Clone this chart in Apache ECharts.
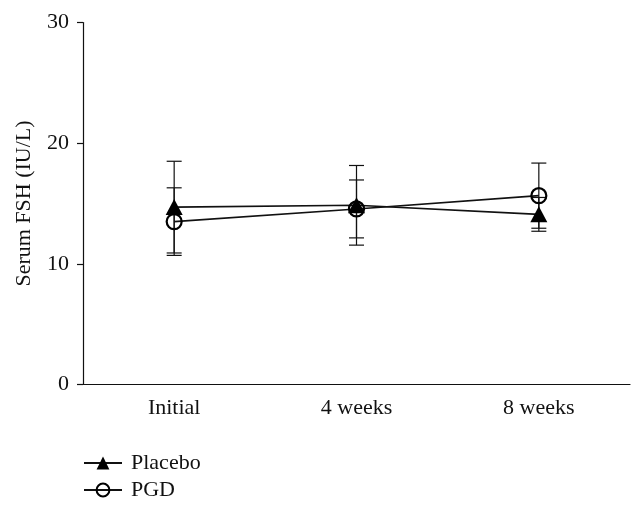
<!DOCTYPE html>
<html>
<head>
<meta charset="utf-8">
<script src="https://cdn.jsdelivr.net/npm/echarts@6/dist/echarts.min.js"></script>
<style>
html,body{margin:0;padding:0;background:#fff;}
#chart{width:643px;height:511px;}
</style>
</head>
<body>
<div id="chart"></div>
<script>
var categories = ['Initial', '4 weeks', '8 weeks'];
var placeboMean = [14.7, 14.85, 14.1];
var placeboSD = [3.8, 3.3, 1.4];
var pgdMean = [13.5, 14.55, 15.65];
var pgdSD = [2.8, 2.4, 2.7];
var yTicks = [0, 10, 20, 30];

var FONT = '"Liberation Serif", "DejaVu Serif", serif';

function errData(mean, sd) {
  return mean.map(function (m, i) { return [i, m - sd[i], m + sd[i]]; });
}

function renderErr(params, api) {
  var x = api.value(0);
  var lo = api.coord([x, api.value(1)]);
  var hi = api.coord([x, api.value(2)]);
  var hw = 7.5;
  var st = { stroke: '#111', lineWidth: 1.2 };
  return {
    type: 'group',
    children: [
      { type: 'line', shape: { x1: lo[0], y1: lo[1], x2: hi[0], y2: hi[1] }, style: st },
      { type: 'line', shape: { x1: lo[0] - hw, y1: lo[1], x2: lo[0] + hw, y2: lo[1] }, style: st },
      { type: 'line', shape: { x1: hi[0] - hw, y1: hi[1], x2: hi[0] + hw, y2: hi[1] }, style: st }
    ]
  };
}

var chart = echarts.init(document.getElementById('chart'));
chart.setOption({
  animation: false,
  backgroundColor: '#fff',
  grid: { left: 83, right: 13, top: 22.5, bottom: 126.5, containLabel: false },
  legend: {
    orient: 'vertical',
    left: 83,
    top: 451,
    height: 90,
    padding: 0,
    itemWidth: 38,
    itemHeight: 16,
    itemGap: 3,
    textStyle: { fontFamily: FONT, fontSize: 22, lineHeight: 24, color: '#111', padding: [0, 0, 0, 4] },
    data: ['Placebo', 'PGD']
  },
  xAxis: {
    type: 'category',
    data: categories,
    boundaryGap: true,
    axisLine: { lineStyle: { color: '#111', width: 1.2 } },
    axisTick: { alignWithLabel: true, length: 6, lineStyle: { color: '#111', width: 1.2 } },
    axisLabel: { fontFamily: FONT, fontSize: 22, color: '#111', margin: 13 },
    splitLine: { show: false }
  },
  yAxis: {
    type: 'value',
    min: 0, max: 30, interval: 10,
    name: 'Serum FSH (IU/L)',
    nameLocation: 'middle',
    nameGap: 48,
    nameTextStyle: { fontFamily: FONT, fontSize: 22, color: '#111' },
    axisLine: { show: true, onZero: false, lineStyle: { color: '#111', width: 1.2 } },
    axisTick: { show: true, length: 6, lineStyle: { color: '#111', width: 1.2 } },
    axisLabel: { fontFamily: FONT, fontSize: 22, color: '#111', margin: 14,
      formatter: function (v) { return yTicks.indexOf(v) >= 0 ? String(v) : ''; } },
    splitLine: { show: false }
  },
  series: [
    { type: 'custom', name: 'errP', renderItem: renderErr, data: errData(placeboMean, placeboSD), z: 1, silent: true },
    { type: 'custom', name: 'errG', renderItem: renderErr, data: errData(pgdMean, pgdSD), z: 1, silent: true },
    {
      type: 'line', name: 'Placebo', data: placeboMean, z: 3,
      symbol: 'triangle', symbolSize: [17, 16],
      itemStyle: { color: '#000' },
      lineStyle: { color: '#111', width: 1.6 }
    },
    {
      type: 'line', name: 'PGD', data: pgdMean, z: 3,
      symbol: 'circle', symbolSize: 15,
      itemStyle: { color: 'rgba(255,255,255,0)', borderColor: '#000', borderWidth: 2.2 },
      lineStyle: { color: '#111', width: 1.6 }
    }
  ]
});
</script>
</body>
</html>
